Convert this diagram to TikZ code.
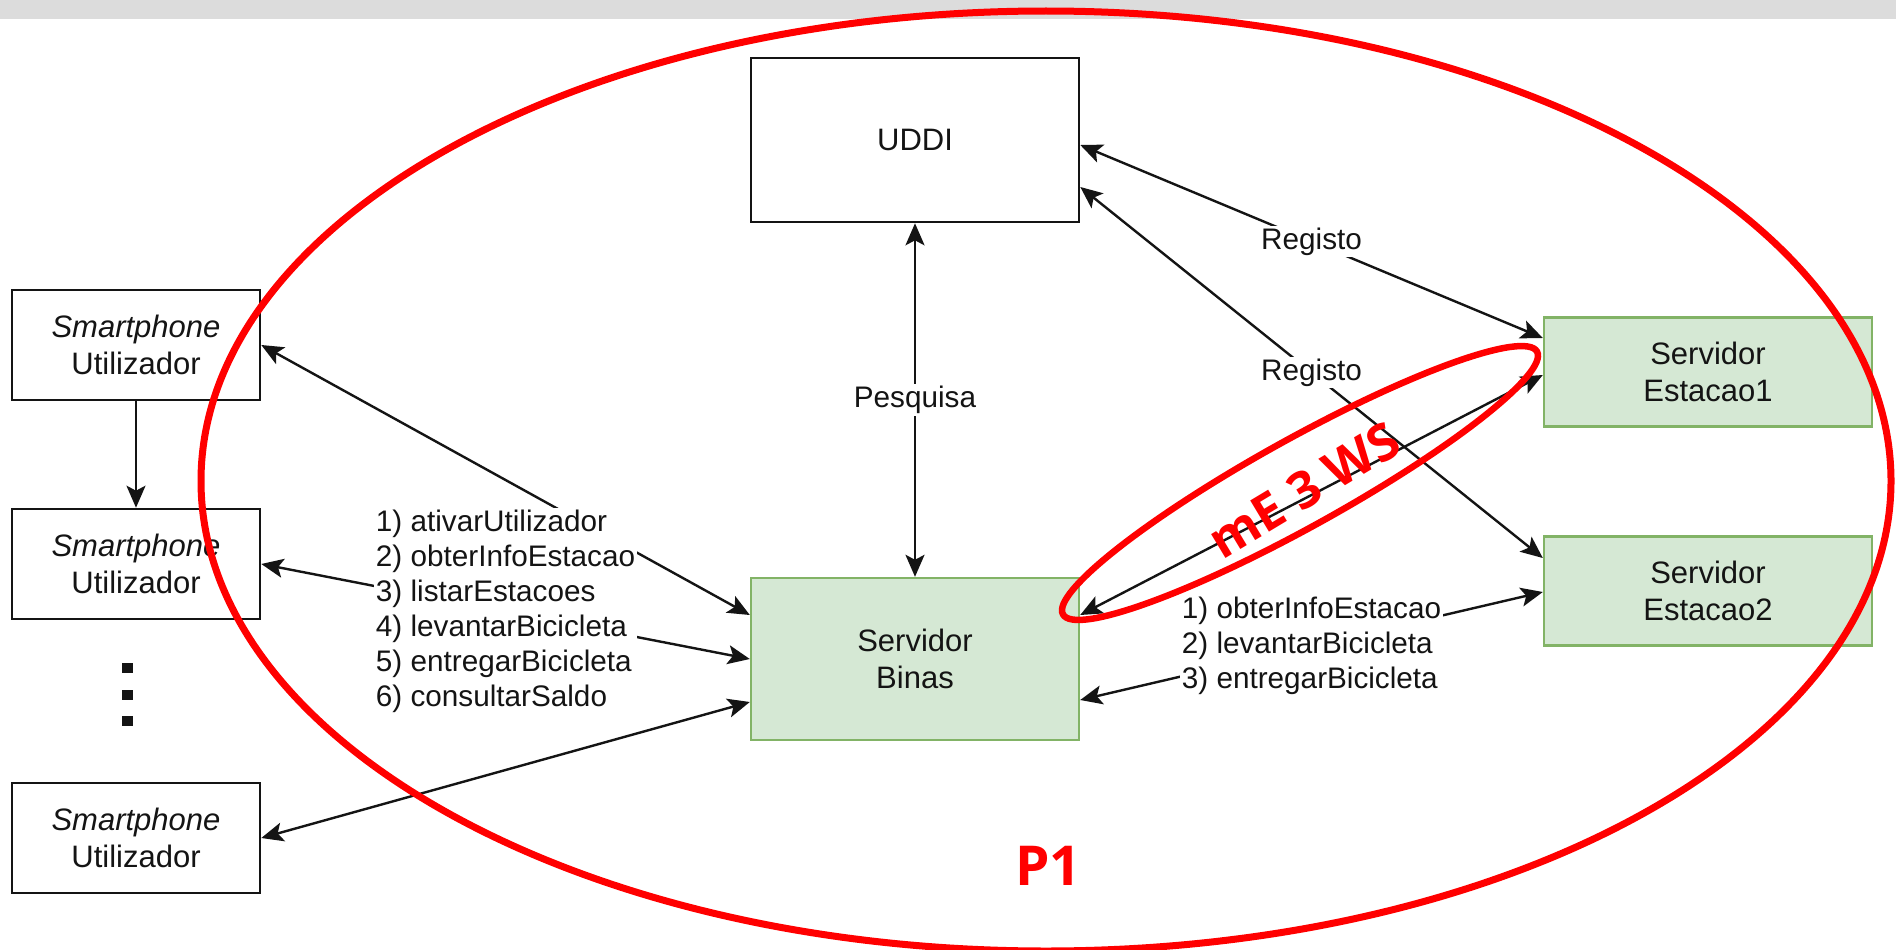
\documentclass[tikz,border=0pt]{standalone}
\usepackage{fontspec}
\setmainfont{Liberation Sans}
\newfontfamily\osans{Open Sans}
\usetikzlibrary{arrows.meta}
\definecolor{gfill}{HTML}{D5E8D4}
\definecolor{gline}{HTML}{82B366}
\definecolor{band}{HTML}{DCDCDC}
\definecolor{pred}{HTML}{FF0000}
\definecolor{ink}{HTML}{141414}
\newcommand\ndfont{\fontsize{31}{37}\selectfont}
\newcommand\lblfont{\fontsize{29.7}{35}\selectfont}
\begin{document}
\begin{tikzpicture}[x=1pt,y=-1pt,
  wbox/.style={draw=ink, line width=2.6pt, fill=white, inner sep=0pt, align=center, font=\ndfont, text=ink},
  gbox/.style={draw=gline, line width=2.4pt, fill=gfill, inner sep=0pt, align=center, font=\ndfont, text=ink},
  tipx/.tip={Stealth[length=22pt,width=19pt,inset=5pt]},
  conn/.style={draw=ink, line width=2.4pt, tipx-tipx},
  oneway/.style={draw=ink, line width=2.4pt, -tipx},
  lbl/.style={fill=white, inner sep=2pt, font=\lblfont, align=left, text=ink},
  redline/.style={draw=pred, line width=7pt}
]
\useasboundingbox (0,0) rectangle (1896,950);
\fill[white] (0,0) rectangle (1896,950);
\fill[band] (0,0) rectangle (1896,19);

% nodes
\node[wbox, minimum width=328pt, minimum height=164pt] (uddi) at (915,140) {UDDI};
\node[gbox, minimum width=328pt, minimum height=162pt] (binas) at (915,659) {Servidor\\Binas};
\node[gbox, minimum width=328pt, minimum height=109pt] (est1) at (1708,372) {Servidor\\Estacao1};
\node[gbox, minimum width=328pt, minimum height=109pt] (est2) at (1708,591) {Servidor\\Estacao2};
\node[wbox, minimum width=248pt, minimum height=110pt] (ph1) at (136,345) {\textit{Smartphone}\\Utilizador};
\node[wbox, minimum width=248pt, minimum height=110pt] (ph2) at (136,564) {\textit{Smartphone}\\Utilizador};
\node[wbox, minimum width=248pt, minimum height=110pt] (ph3) at (136,838) {\textit{Smartphone}\\Utilizador};

% vertical dots
\fill[ink] (122,663) rectangle (133,673);
\fill[ink] (122,690) rectangle (133,700);
\fill[ink] (122,716) rectangle (133,726);

% connectors
\draw[oneway] (ph1.south) -- (ph2.north);
\draw[conn] (ph1.east) -- ([yshift=44pt]binas.west);
\draw[conn] (ph3.east) -- ([yshift=-43pt]binas.west);
\draw[conn] (ph2.east) -- node[lbl] {1) ativarUtilizador\\2) obterInfoEstacao\\3) listarEstacoes\\4) levantarBicicleta\\5) entregarBicicleta\\6) consultarSaldo} (binas.west);
\draw[conn] (uddi.south) -- node[lbl] {Pesquisa} (binas.north);
\draw[conn] ([yshift=-5pt]uddi.east) -- node[lbl] {Registo} ([yshift=34pt]est1.west);
\draw[conn] ([yshift=-47pt]uddi.east) -- node[lbl] {Registo} ([yshift=33pt]est2.west);
\draw[conn] ([yshift=44pt]binas.east) -- ([yshift=-3pt]est1.west);
\draw[conn] ([yshift=-41pt]binas.east) -- node[lbl] {1) obterInfoEstacao\\2) levantarBicicleta\\3) entregarBicicleta} ([yshift=-1pt]est2.west);

% red annotations
\draw[redline] (1046,481) ellipse [x radius=845pt, y radius=470pt];
\draw[redline, line width=6.5pt, rotate around={29:(1300,483)}] (1300,483) ellipse [x radius=271pt, y radius=44pt];
\node[text=pred, rotate=31, font=\osans\bfseries\fontsize{51}{51}\selectfont, inner sep=0pt] (ws) at (1304,490) {mE 3 WS};
\node[text=pred, font=\osans\bfseries\fontsize{55}{55}\selectfont, inner sep=0pt] (p1) at (1048,866) {P1};
\end{tikzpicture}
\end{document}
